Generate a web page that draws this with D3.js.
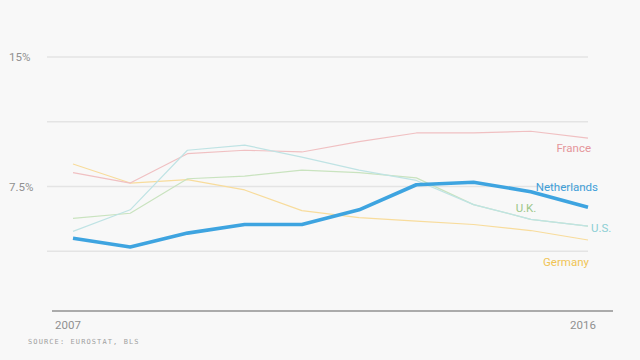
<!DOCTYPE html>
<html>
<head>
<meta charset="utf-8">
<script src="https://d3js.org/d3.v7.min.js"></script>
<style>
  body { margin: 0; background: #f8f8f8; }
  svg { display: block; }
</style>
</head>
<body>
<div id="chart"></div>
<script>
// Data (unemployment rate, %)
var years = [2007, 2008, 2009, 2010, 2011, 2012, 2013, 2014, 2015, 2016];
var france      = [8.3, 7.7, 9.4, 9.6, 9.5, 10.1, 10.6, 10.6, 10.7, 10.3];
var germany     = [8.8, 7.7, 7.9, 7.3, 6.1, 5.7, 5.5, 5.3, 4.95, 4.4];
var uk          = [5.65, 5.95, 7.95, 8.1, 8.45, 8.3, 8.0, 6.45, 5.6, 5.2];
var us          = [4.9, 6.15, 9.6, 9.9, 9.2, 8.45, 7.85, 6.45, 5.6, 5.2];
var netherlands = [4.5, 4.0, 4.8, 5.3, 5.3, 6.15, 7.6, 7.75, 7.2, 6.3];
var gridValues = [3.75, 7.5, 11.25, 15];
var tickLabels = { 7.5: "7.5%", 15: "15%" };
var xTickYears = [2007, 2016];

var svgWidth = 640;
var svgHeight = 360;

var svg = d3.select("#chart")
  .append("svg")
  .attr("width", svgWidth)
  .attr("height", svgHeight)
  .style("font-family", "Roboto, 'Noto Sans', sans-serif");

svg.append("rect")
  .attr("width", svgWidth)
  .attr("height", svgHeight)
  .attr("fill", "#f8f8f8");

// scales
var xScale = d3.scaleLinear()
  .domain([2007, 2016])
  .range([73, 588]);

var yScale = d3.scaleLinear()
  .domain([0, 15])
  .range([316, 57]);

// gridlines
svg.append("g")
  .selectAll("line")
  .data(gridValues)
  .enter()
  .append("line")
  .attr("x1", 47)
  .attr("x2", 588)
  .attr("y1", d => yScale(d))
  .attr("y2", d => yScale(d))
  .attr("stroke", "#e4e4e4")
  .attr("stroke-width", 1.5);

// y labels
svg.append("g")
  .selectAll("text")
  .data(gridValues.filter(d => tickLabels[d]))
  .enter()
  .append("text")
  .attr("x", 9)
  .attr("y", d => yScale(d) + 4)
  .attr("font-size", "11.5px")
  .attr("fill", "#909090")
  .text(d => tickLabels[d]);

// baseline
svg.append("line")
  .attr("x1", 52)
  .attr("x2", 613)
  .attr("y1", 311)
  .attr("y2", 311)
  .attr("stroke", "#ababab")
  .attr("stroke-width", 2);

// x labels
svg.append("g")
  .selectAll("text")
  .data(xTickYears)
  .enter()
  .append("text")
  .attr("x", d => d === 2007 ? 68 : 583)
  .attr("y", 329)
  .attr("text-anchor", "middle")
  .attr("font-size", "11.5px")
  .attr("fill", "#909090")
  .text(d => d);

// source
svg.append("text")
  .attr("x", 28)
  .attr("y", 344)
  .attr("font-size", "7px")
  .attr("font-family", "'DejaVu Sans Mono', monospace")
  .attr("letter-spacing", "1.1px")
  .attr("fill", "#a0a0a0")
  .text("SOURCE: EUROSTAT, BLS");

var line = d3.line()
  .x((d, i) => xScale(years[i]))
  .y(d => yScale(d));

var series = [
  { name: "Germany", values: germany, color: "#f8dc9c", width: 1.2 },
  { name: "France", values: france, color: "#f0c0c2", width: 1.2 },
  { name: "U.K.", values: uk, color: "#c9e3bf", width: 1.2 },
  { name: "U.S.", values: us, color: "#bfe3e4", width: 1.2 },
  { name: "Netherlands", values: netherlands, color: "#3ea4e0", width: 3.6 }
];

svg.append("g")
  .selectAll("path")
  .data(series)
  .enter()
  .append("path")
  .attr("d", d => line(d.values))
  .attr("fill", "none")
  .attr("stroke", d => d.color)
  .attr("stroke-width", d => d.width)
  .attr("stroke-linejoin", "round");

// series labels
var labels = [
  { text: "France", x: 591, y: 152, anchor: "end", color: "#e5959a" },
  { text: "Netherlands", x: 598, y: 191, anchor: "end", color: "#3f9fd8" },
  { text: "U.K.", x: 526, y: 212, anchor: "middle", color: "#9cc788" },
  { text: "U.S.", x: 591, y: 232, anchor: "start", color: "#8ccfd4" },
  { text: "Germany", x: 589, y: 266, anchor: "end", color: "#f0c455" }
];

svg.append("g")
  .selectAll("text")
  .data(labels)
  .enter()
  .append("text")
  .attr("x", d => d.x)
  .attr("y", d => d.y)
  .attr("text-anchor", d => d.anchor)
  .attr("font-size", "11.5px")
  .attr("fill", d => d.color)
  .text(d => d.text);
</script>
</body>
</html>
